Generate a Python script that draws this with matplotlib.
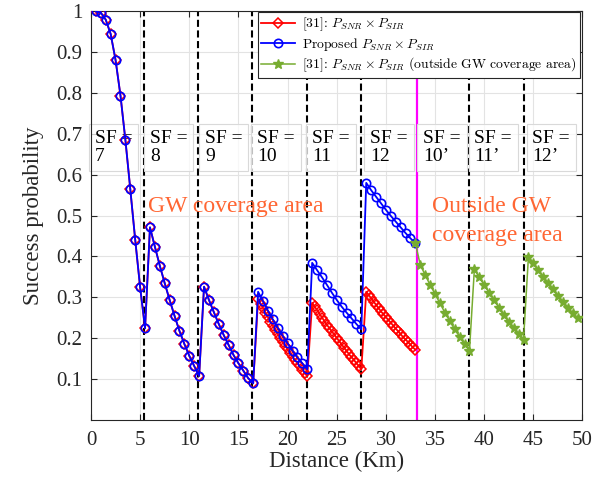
import matplotlib
matplotlib.use("Agg")
import matplotlib.pyplot as plt

plt.rcParams['font.family'] = ['Liberation Serif', 'DejaVu Serif']
plt.rcParams['mathtext.fontset'] = 'cm'
plt.rcParams['axes.formatter.use_mathtext'] = False

# ---------------- data ----------------
dist_sf7 = [0.5, 1.0, 1.5, 2.0, 2.5, 3.0, 3.5, 4.0, 4.5, 5.0, 5.5]
dist_sf8 = [6.0, 6.5, 7.0, 7.5, 8.0, 8.5, 9.0, 9.5, 10.0, 10.5, 11.0]
dist_sf9 = [11.5, 12.0, 12.5, 13.0, 13.5, 14.0, 14.5, 15.0, 15.5, 16.0, 16.5]
dist_sf10 = [17.0, 17.5, 18.0, 18.5, 19.0, 19.5, 20.0, 20.5, 21.0, 21.5, 22.0]
dist_sf11 = [22.5, 23.0, 23.5, 24.0, 24.5, 25.0, 25.5, 26.0, 26.5, 27.0, 27.5]
dist_sf12 = [28.0, 28.5, 29.0, 29.5, 30.0, 30.5, 31.0, 31.5, 32.0, 32.5, 33.0]

blue_sf7 = [1.0, 0.997, 0.98, 0.945, 0.881, 0.794, 0.685, 0.564, 0.44, 0.324, 0.2235]
blue_sf8 = [0.471, 0.4235, 0.377, 0.334, 0.293, 0.254, 0.217, 0.185, 0.156, 0.131, 0.1066]
blue_sf9 = [0.3255, 0.293, 0.263, 0.234, 0.207, 0.1826, 0.158, 0.1377, 0.1196, 0.101, 0.0887]
blue_sf10 = [0.313, 0.290, 0.267, 0.2455, 0.225, 0.2055, 0.187, 0.169, 0.152, 0.1377, 0.123]
blue_sf11 = [0.384, 0.366, 0.3485, 0.33, 0.311, 0.293, 0.2766, 0.262, 0.248, 0.234, 0.221]
blue_sf12 = [0.580, 0.562, 0.546, 0.530, 0.514, 0.499, 0.485, 0.471, 0.457, 0.444, 0.432]

# [31] curve: identical to proposed for SF7-SF9, denser sampling for SF10-SF12
red_dist_sf10 = [17.0, 17.25, 17.5, 17.75, 18.0, 18.25, 18.5, 18.75, 19.0, 19.25, 19.5,
                 19.75, 20.0, 20.25, 20.5, 20.75, 21.0, 21.25, 21.5, 21.75, 22.0]
red_dist_sf11 = [22.5, 22.75, 23.0, 23.25, 23.5, 23.75, 24.0, 24.25, 24.5, 24.75, 25.0,
                 25.25, 25.5, 25.75, 26.0, 26.25, 26.5, 26.75, 27.0, 27.25, 27.5]
red_dist_sf12 = [28.0, 28.25, 28.5, 28.75, 29.0, 29.25, 29.5, 29.75, 30.0, 30.25, 30.5,
                 30.75, 31.0, 31.25, 31.5, 31.75, 32.0, 32.25, 32.5, 32.75, 33.0]
red_sf10 = [0.295, 0.284, 0.273, 0.262, 0.251, 0.240, 0.230, 0.220, 0.210, 0.200, 0.190,
            0.181, 0.172, 0.163, 0.154, 0.146, 0.138, 0.130, 0.122, 0.114, 0.106]
red_sf11 = [0.286, 0.277, 0.268, 0.259, 0.250, 0.241, 0.232, 0.224, 0.216, 0.208, 0.200,
            0.192, 0.184, 0.176, 0.168, 0.160, 0.153, 0.146, 0.138, 0.131, 0.123]
red_sf12 = [0.313, 0.305, 0.297, 0.289, 0.281, 0.273, 0.265, 0.258, 0.251, 0.244, 0.237,
            0.230, 0.223, 0.216, 0.209, 0.202, 0.196, 0.190, 0.183, 0.177, 0.171]

green_dist_1 = [33.0, 33.5, 34.0, 34.5, 35.0, 35.5, 36.0, 36.5, 37.0, 37.5, 38.0, 38.5]
green_dist_2 = [39.0, 39.5, 40.0, 40.5, 41.0, 41.5, 42.0, 42.5, 43.0, 43.5, 44.0]
green_dist_3 = [44.5, 45.0, 45.5, 46.0, 46.5, 47.0, 47.5, 48.0, 48.5, 49.0, 49.5]
green_1 = [0.432, 0.379, 0.354, 0.33, 0.3076, 0.285, 0.262, 0.2414, 0.221, 0.203, 0.185, 0.1687]
green_2 = [0.368, 0.3485, 0.33, 0.311, 0.293, 0.274, 0.256, 0.24, 0.2235, 0.2096, 0.195]
green_3 = [0.399, 0.383, 0.366, 0.35, 0.334, 0.319, 0.3027, 0.289, 0.274, 0.26, 0.248]

sf_boundaries = [5.4, 10.9, 16.4, 22.0, 27.5, 38.5, 44.0]
coverage_edge = 33.2
sf_labels = ["SF =\n7", "SF =\n8", "SF =\n9", "SF =\n10", "SF =\n11", "SF =\n12",
             "SF =\n10\u2019", "SF =\n11\u2019", "SF =\n12\u2019"]
sf_label_x = [0.4, 6.0, 11.6, 16.9, 22.5, 28.4, 33.8, 39.0, 44.9]

legend_labels = [r"[31]: $P_{SNR} \times P_{SIR}$",
                 r"Proposed $P_{SNR} \times P_{SIR}$",
                 r"[31]: $P_{SNR} \times P_{SIR}$ (outside GW coverage area)"]

# ---------------- figure ----------------
fig = plt.figure(figsize=(6.05, 4.79), dpi=100)
ax = fig.add_axes([0.1504, 0.1242, 0.8124, 0.8518])

blue_x = dist_sf7 + dist_sf8 + dist_sf9 + dist_sf10 + dist_sf11 + dist_sf12
blue_y = blue_sf7 + blue_sf8 + blue_sf9 + blue_sf10 + blue_sf11 + blue_sf12
red_x = dist_sf7 + dist_sf8 + dist_sf9 + red_dist_sf10 + red_dist_sf11 + red_dist_sf12
red_y = blue_sf7 + blue_sf8 + blue_sf9 + red_sf10 + red_sf11 + red_sf12
green_x = green_dist_1 + green_dist_2 + green_dist_3
green_y = green_1 + green_2 + green_3

for xb in sf_boundaries:
    ax.axvline(xb, color='black', lw=1.5, linestyle=(0, (3.4, 1.7)), zorder=1)
ax.axvline(coverage_edge, color='#FF00FF', lw=1.6, zorder=1)

for xt, lab in zip(sf_label_x, sf_labels):
    ax.text(xt, 0.667, lab, fontsize=14, ha='left', va='center', linespacing=1.05,
            zorder=2,
            bbox=dict(boxstyle='square,pad=0.3', facecolor=(1, 1, 1, 0.75),
                      edgecolor=(0.85, 0.85, 0.85), linewidth=0.8))

l_red, = ax.plot(red_x, red_y, color='red', lw=1.3, marker='D', markersize=4.8,
                 markerfacecolor='none', markeredgewidth=1.1, zorder=3)
l_blue, = ax.plot(blue_x, blue_y, color='blue', lw=1.3, marker='o', markersize=6,
                  markerfacecolor='none', markeredgewidth=1.2, zorder=4)
l_green, = ax.plot(green_x, green_y, color='#77AC30', lw=1.1, marker='*', markersize=7,
                   markeredgewidth=1.0, zorder=5)

ax.text(5.8, 0.509, "GW coverage area", color='#FF6633', fontsize=17,
        ha='left', va='baseline', zorder=6)
ax.text(34.7, 0.509, "Outside GW", color='#FF6633', fontsize=17,
        ha='left', va='baseline', zorder=6)
ax.text(34.7, 0.438, "coverage area", color='#FF6633', fontsize=17,
        ha='left', va='baseline', zorder=6)

ax.set_xlim(0, 50)
ax.set_ylim(0, 1)
ax.set_xticks([0, 5, 10, 15, 20, 25, 30, 35, 40, 45, 50])
ax.set_yticks([0.1, 0.2, 0.3, 0.4, 0.5, 0.6, 0.7, 0.8, 0.9, 1.0])
ax.set_yticklabels(["0.1", "0.2", "0.3", "0.4", "0.5", "0.6", "0.7", "0.8", "0.9", "1"])
ax.grid(True, color='#E3E3E3', linewidth=0.8, zorder=0)
ax.set_axisbelow(True)
ax.tick_params(direction='in', top=True, right=True, length=4, width=0.8,
               labelsize=15, colors='#262626')
ax.tick_params(axis='x', pad=8)
ax.tick_params(axis='y', pad=6)
for s in ax.spines.values():
    s.set_color('#262626')
    s.set_linewidth(0.8)

ax.set_xlabel("Distance (Km)", fontsize=16.5, color='#262626', labelpad=1)
ax.set_ylabel("Success probability", fontsize=16.5, color='#262626', labelpad=9)

leg = ax.legend([l_red, l_blue, l_green], legend_labels, loc='upper right',
                bbox_to_anchor=(0.995, 0.998), borderaxespad=0,
                prop={'family': 'cmr10', 'size': 9.8},
                fancybox=False, framealpha=1, edgecolor='#262626',
                handlelength=2.5, handletextpad=0.5, borderpad=0.25, labelspacing=0.2)
leg.get_frame().set_linewidth(0.8)
leg.set_zorder(10)

fig.savefig("out.png", dpi=100)
